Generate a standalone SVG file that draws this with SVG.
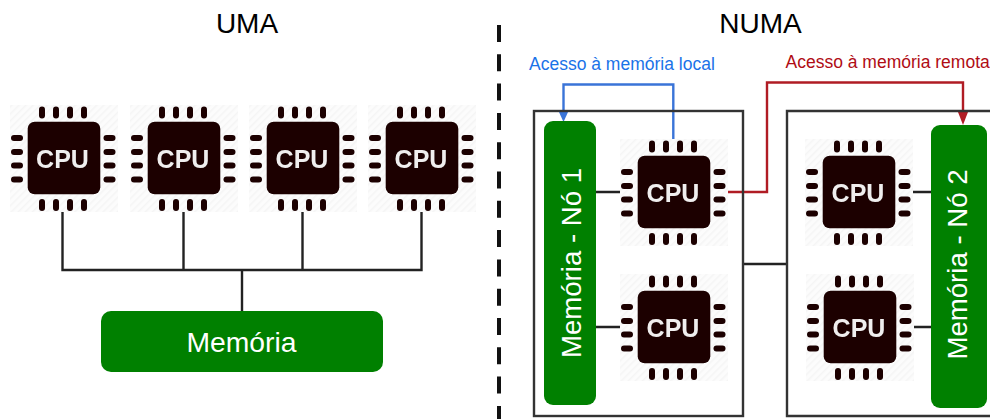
<svg xmlns="http://www.w3.org/2000/svg" width="990" height="419" viewBox="0 0 990 419">
<style>
text{font-family:"Liberation Sans",Arial,sans-serif}
.title{font-size:28px;fill:#000;text-anchor:middle}
.mem{fill:#008000}
.memt{font-size:27.600px;fill:#fff;text-anchor:middle}
.wire{fill:none;stroke:#222;stroke-width:2.4}
.box{fill:none;stroke:#333;stroke-width:2.4}
.blue{fill:none;stroke:#3a74d8;stroke-width:2.4}
.red{fill:none;stroke:#b01c24;stroke-width:2.4}
.pin{fill:#1c0303}
.cput{font-size:25px;font-weight:bold;fill:#f0eeee;text-anchor:middle}
.soft{filter:url(#soft)}
</style>
<defs>
<filter id="soft" x="-5%" y="-5%" width="110%" height="110%"><feGaussianBlur stdDeviation="0.45"/></filter>
<pattern id="hatch" width="5" height="5" patternUnits="userSpaceOnUse" patternTransform="rotate(-45)">
<rect width="5" height="5" fill="#fcfcfc"/><rect width="5" height="1.5" fill="#f5f5f5"/>
</pattern>
<g id="cpu">
<rect x="-54" y="-53" width="108" height="107" fill="url(#hatch)"/>
<rect x="-36.300" y="-36.300" width="72.600" height="72.600" rx="7" fill="#1c0303"/>
<g class="pin">
<rect x="-25" y="-51.500" width="6" height="12" rx="3"/><rect x="-11" y="-51.500" width="6" height="12" rx="3"/><rect x="3" y="-51.500" width="6" height="12" rx="3"/><rect x="17" y="-51.500" width="6" height="12" rx="3"/>
<rect x="-25" y="41" width="6" height="12" rx="3"/><rect x="-11" y="41" width="6" height="12" rx="3"/><rect x="3" y="41" width="6" height="12" rx="3"/><rect x="17" y="41" width="6" height="12" rx="3"/>
<rect x="-53" y="-23" width="12" height="6" rx="3"/><rect x="-53" y="-9" width="12" height="6" rx="3"/><rect x="-53" y="4.500" width="12" height="6" rx="3"/><rect x="-53" y="18.500" width="12" height="6" rx="3"/>
<rect x="39.500" y="-23" width="12" height="6" rx="3"/><rect x="39.500" y="-9" width="12" height="6" rx="3"/><rect x="39.500" y="4.500" width="12" height="6" rx="3"/><rect x="39.500" y="18.500" width="12" height="6" rx="3"/>
</g>
</g>
</defs>
<rect width="990" height="419" fill="#fff"/>

<g id="connectors">
<path class="wire" d="M62.500 212V270H421.500V212M183.500 212V270M302.500 212V270M242 270V311"/>
<path d="M499 25V419" fill="none" stroke="#111" stroke-width="4" stroke-dasharray="17 12.300"/>
<path class="wire" d="M596 192H620M596 327H620M911 192H931M911 327H931M743 264H787"/>
<path class="blue" d="M673.300 139V84.500H563.500V112"/>
<path d="M558.500 111H568.500L563.500 122Z" fill="#3a74d8"/>
<path class="red" d="M727 192H767V82.500H963V113"/>
<path d="M958 112H968L963 125Z" fill="#b01c24"/>
</g>

<g id="numa-box-1"><rect class="box" x="534" y="111" width="209" height="305"/></g>
<g id="numa-box-2"><path class="box" d="M990 111H787V416H990"/></g>

<g id="title-uma"><text class="title" x="247" y="33">UMA</text></g>
<g id="title-numa"><text class="title" x="760.500" y="33">NUMA</text></g>
<g id="label-local"><text x="529" y="69.500" font-size="17.500" fill="#1a73e8">Acesso à memória local</text></g>
<g id="label-remote"><text x="785.500" y="67.500" font-size="17.500" fill="#b00c14">Acesso à memória remota</text></g>

<g id="uma-cpu-1" class="soft"><use href="#cpu" x="64" y="158"/><text class="cput" x="62.500" y="167.500">CPU</text></g>
<g id="uma-cpu-2" class="soft"><use href="#cpu" x="184" y="158"/><text class="cput" x="183" y="167.500">CPU</text></g>
<g id="uma-cpu-3" class="soft"><use href="#cpu" x="303" y="158"/><text class="cput" x="302" y="167.500">CPU</text></g>
<g id="uma-cpu-4" class="soft"><use href="#cpu" x="422" y="158"/><text class="cput" x="421" y="167.500">CPU</text></g>
<g id="uma-memoria"><rect class="mem" x="101" y="311" width="282" height="61" rx="10"/><text x="241.500" y="352" font-size="28.300" fill="#fff" text-anchor="middle">Memória</text></g>

<g id="numa-mem-1"><rect class="mem" x="544" y="121" width="52" height="284" rx="9"/><text class="memt" transform="translate(580.500 263) rotate(-90)">Memória - Nó 1</text></g>
<g id="numa-mem-2"><rect class="mem" x="931" y="125" width="56" height="283" rx="9"/><text class="memt" transform="translate(967 264.500) rotate(-90)">Memória - Nó 2</text></g>

<g id="numa-cpu-1" class="soft"><use href="#cpu" x="674" y="192"/><text class="cput" x="673" y="201.500">CPU</text></g>
<g id="numa-cpu-2" class="soft"><use href="#cpu" x="674" y="327"/><text class="cput" x="673" y="336.500">CPU</text></g>
<g id="numa-cpu-3" class="soft"><use href="#cpu" x="859" y="192"/><text class="cput" x="858" y="201.500">CPU</text></g>
<g id="numa-cpu-4" class="soft"><use href="#cpu" x="860" y="327"/><text class="cput" x="859" y="336.500">CPU</text></g>
</svg>
